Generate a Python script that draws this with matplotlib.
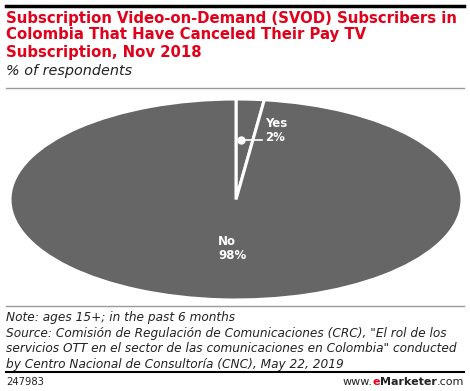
import matplotlib
matplotlib.use("Agg")
import matplotlib.pyplot as plt
from matplotlib.lines import Line2D

labels = ["Yes", "No"]
values = [2, 98]
pie_color = "#666666"

title_lines = ["Subscription Video-on-Demand (SVOD) Subscribers in",
               "Colombia That Have Canceled Their Pay TV",
               "Subscription, Nov 2018"]
subtitle = "% of respondents"
notes = ["Note: ages 15+; in the past 6 months",
         "Source: Comisión de Regulación de Comunicaciones (CRC), \"El rol de los",
         "servicios OTT en el sector de las comunicaciones en Colombia\" conducted",
         "by Centro Nacional de Consultoría (CNC), May 22, 2019"]

W, H = 470, 391
fig = plt.figure(figsize=(W / 100, H / 100), dpi=100)
fig.patch.set_facecolor("white")

def fx(x): return x / W
def fy(y): return 1 - y / H

# rules
fig.add_artist(Line2D([fx(6), fx(464)], [fy(6), fy(6)], color="black", lw=2.5))
fig.add_artist(Line2D([fx(6), fx(464)], [fy(88), fy(88)], color="#999999", lw=1))
fig.add_artist(Line2D([fx(6), fx(464)], [fy(306), fy(306)], color="#999999", lw=1))
fig.add_artist(Line2D([fx(6), fx(464)], [fy(372), fy(372)], color="black", lw=1.5))

for i, t in enumerate(title_lines):
    fig.text(fx(6), fy(18 + 17 * i), t, color="#e2001a", fontsize=10.7,
             fontweight="bold", va="center", ha="left")
fig.text(fx(6), fy(71), subtitle, color="#222222", fontsize=10.4, style="italic",
         va="center", ha="left")
for i, t in enumerate(notes):
    fig.text(fx(6), fy(318 + 15.5 * i), t, color="#222222", fontsize=8.7,
             style="italic", va="center", ha="left")
fig.text(fx(6), fy(382), "247983", color="#222222", fontsize=7.2, va="center", ha="left")

# footer brand drawn piecewise
brand = [("www.", "#222222", "normal"), ("e", "#e2001a", "bold"),
         ("Marketer", "#222222", "bold"), (".com", "#222222", "normal")]
renderer = fig.canvas.get_renderer()
x = fx(464)
for s, c, w in reversed(brand):
    tt = fig.text(x, fy(382), s, color=c, fontsize=8, fontweight=w, va="center", ha="right")
    bb = tt.get_window_extent(renderer=renderer)
    x -= bb.width / W

# pie
ax = fig.add_axes([fx(10), fy(300), fx(462) - fx(10), fy(99) - fy(300)])
ax.pie(values, colors=[pie_color, pie_color], startangle=90, counterclock=False,
       wedgeprops=dict(edgecolor="white", linewidth=2.2))
ax.set_aspect("auto")
ax.set_xlim(-1, 1)
ax.set_ylim(-1, 1)

# Yes label with leader
ax.plot([0.022, 0.115], [0.59, 0.59], color="white", lw=1.2)
ax.plot([0.022], [0.59], "o", color="white", ms=5)
ax.text(0.13, 0.69, "Yes\n2%", color="white", fontsize=8.5, fontweight="bold",
        ha="left", va="center", linespacing=1.1)
ax.text(-0.08, -0.485, "No\n98%", color="white", fontsize=8.5, fontweight="bold",
        ha="left", va="center", linespacing=1.1)

fig.savefig("out.png", dpi=100, facecolor="white")
